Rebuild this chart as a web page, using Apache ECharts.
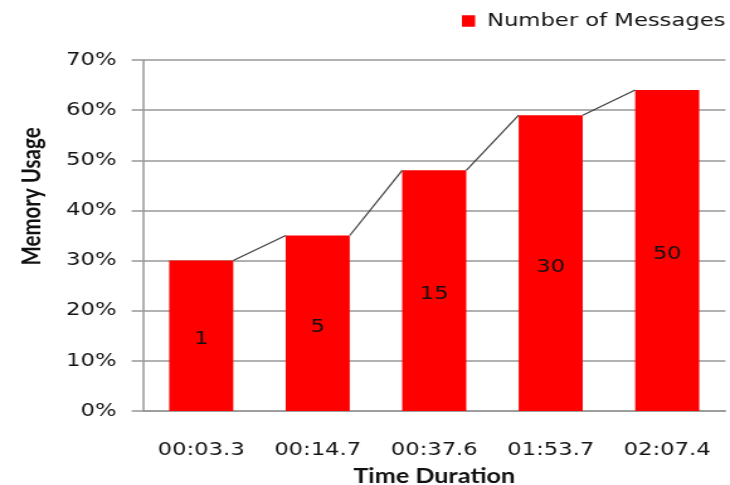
<!DOCTYPE html>
<html>
<head>
<meta charset="utf-8">
<script src="https://cdn.jsdelivr.net/npm/echarts@6/dist/echarts.min.js"></script>
<style>
  html, body { margin: 0; padding: 0; background: #fff; overflow: hidden; }
  /* chart drawn on a narrower canvas, then widened to fill the window */
  #chart {
    width: 580px; height: 485px;
    transform: scaleX(1.2586); transform-origin: 0 0;
  }
</style>
</head>
<body>
<div id="chart"></div>
<script>
const categories = ['00:03.3', '00:14.7', '00:37.6', '01:53.7', '02:07.4'];
const memoryUsage = [30, 35, 48, 59, 64];      // percent
const messageCounts = [1, 5, 15, 30, 50];
const yMin = 0, yMax = 70, yStep = 10;

const BAR_RATIO = 0.55;
const tickFont = 'DejaVu Sans, Verdana, sans-serif';
const titleFont = 'Lato, Calibri, sans-serif';
const gridGray = '#979797';
const textColor = '#141414';

const chart = echarts.init(document.getElementById('chart'));

chart.setOption({
  animation: false,
  backgroundColor: '#fff',
  legend: {
    data: ['Number of Messages'],
    left: 367, top: 12,
    padding: 0,
    itemWidth: 10.5, itemHeight: 11.5,
    icon: 'rect',
    textStyle: { fontFamily: tickFont, fontSize: 18, color: textColor, padding: [0, 0, 0, 4.5] }
  },
  grid: { left: 113.6, right: 3.6, top: 60, bottom: 74, containLabel: false, outerBoundsMode: 'none' },
  xAxis: {
    type: 'category',
    data: categories,
    name: 'Time Duration',
    nameLocation: 'middle',
    nameGap: 56,
    nameTextStyle: { fontFamily: titleFont, fontWeight: 'bold', fontSize: 20, color: '#111' },
    axisLine: { lineStyle: { color: gridGray, width: 1.5 } },
    axisTick: { show: false },
    axisLabel: { margin: 30, fontFamily: tickFont, fontSize: 18, color: textColor }
  },
  yAxis: {
    type: 'value',
    min: yMin, max: yMax, interval: yStep,
    name: 'Memory Usage',
    nameLocation: 'middle',
    nameGap: 78,
    nameTextStyle: { fontFamily: titleFont, fontWeight: 'bold', fontSize: 20.5, color: '#111', padding: [0, 0, 0, 78] },
    axisLine: { show: true, lineStyle: { color: gridGray, width: 1.5 } },
    axisTick: { show: true, length: 9, lineStyle: { color: gridGray, width: 1.5 } },
    splitLine: { lineStyle: { color: gridGray, width: 1.5 } },
    axisLabel: { margin: 21, fontFamily: tickFont, fontSize: 18, color: textColor, formatter: '{value}%' }
  },
  series: [
    {
      name: 'Number of Messages',
      type: 'bar',
      data: memoryUsage,
      barWidth: (BAR_RATIO * 100) + '%',
      itemStyle: { color: '#ff0000' },
      label: {
        show: true,
        position: 'inside',
        offset: [0, 4],
        fontFamily: tickFont, fontSize: 18, color: '#111',
        formatter: p => String(messageCounts[p.dataIndex])
      },
      z: 2
    },
    {
      // series lines: joins the top-right corner of each bar to the top-left of the next
      name: 'connectors',
      type: 'custom',
      data: memoryUsage.map((v, i) => [i, v]),
      renderItem: (params, api) => {
        const i = params.dataIndex;
        if (i === 0) return null;
        const prev = api.coord([i - 1, memoryUsage[i - 1]]);
        const cur = api.coord([i, api.value(1)]);
        const half = api.size([1, 0])[0] * BAR_RATIO / 2;
        return {
          type: 'line',
          shape: { x1: prev[0] + half, y1: prev[1], x2: cur[0] - half, y2: cur[1] },
          style: { stroke: '#404040', lineWidth: 1.2 }
        };
      },
      silent: true,
      z: 3
    }
  ]
});
</script>
</body>
</html>
